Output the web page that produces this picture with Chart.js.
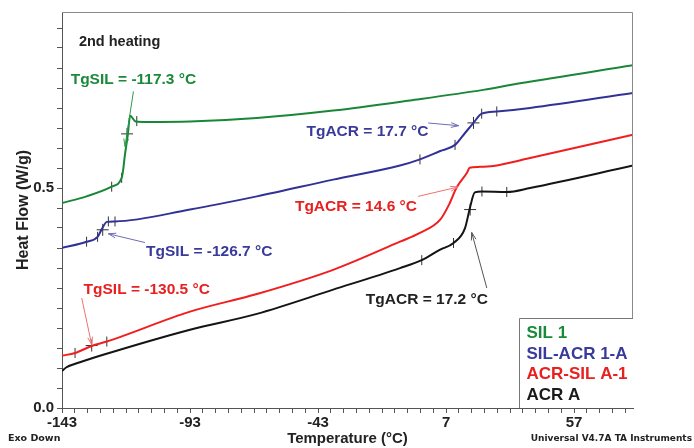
<!DOCTYPE html>
<html>
<head>
<meta charset="utf-8">
<script src="https://cdn.jsdelivr.net/npm/chart.js@4.4.1/dist/chart.umd.min.js"></script>
<style>
  html, body { margin: 0; padding: 0; background: #fff; }
</style>
</head>
<body>
<canvas id="dsc" width="694" height="448"></canvas>
<script>
// temperatures (°C) and heat flow (W/g)
const sil1Temp = [-143, -133.4, -123.6, -119.7, -119.1, -118.5, -117.3, -116.4, -114.2, -109.9, -93, -66.9, -37.1, -7.1, 21.5, 35.9, 80];
const sil1Flow = [0.466, 0.481, 0.503, 0.523, 0.542, 0.572, 0.621, 0.664, 0.651, 0.650, 0.651, 0.659, 0.676, 0.699, 0.723, 0.738, 0.779];

const silAcrTemp = [-143, -133.4, -129.1, -127.5, -125.5, -122.3, -93, -66.9, -37.1, -11, -3.2, 4.7, 10.5, 14.4, 17.7, 20.9, 26.8, 39.8, 80];
const silAcrFlow = [0.364, 0.378, 0.389, 0.406, 0.423, 0.424, 0.451, 0.481, 0.519, 0.551, 0.565, 0.584, 0.598, 0.625, 0.648, 0.669, 0.674, 0.682, 0.716];

const acrSilTemp = [-143, -137.9, -131.4, -125.5, -93, -66.9, -37.1, -11, -3.2, 4.7, 8.3, 11.1, 15.1, 16.2, 19.6, 25.5, 39.8, 80];
const acrSilFlow = [0.119, 0.125, 0.141, 0.151, 0.219, 0.259, 0.314, 0.378, 0.398, 0.428, 0.464, 0.501, 0.534, 0.546, 0.548, 0.550, 0.568, 0.621];

const acrTemp = [-143, -141.4, -136, -126.9, -93, -66.9, -37.1, -11, -2.5, 4.7, 9.9, 14.4, 16.4, 18.2, 21, 30.7, 39.8, 80];
const acrFlow = [0.084, 0.092, 0.104, 0.121, 0.178, 0.214, 0.269, 0.318, 0.336, 0.360, 0.375, 0.409, 0.457, 0.490, 0.492, 0.491, 0.500, 0.551];

// onset / endset marks and Tg crosses from the analysis
const markTemp = [-123.6, -119.7, -113.8, -133.4, -129.1, -124.9, -122.3, -3.2, 10.5, 20.9, 26.8, -137.9, -125.5, -2.5, 9.9, 21, 30.7];
const markFlow = [0.503, 0.523, 0.652, 0.378, 0.389, 0.424, 0.424, 0.565, 0.598, 0.669, 0.674, 0.125, 0.151, 0.336, 0.375, 0.492, 0.491];
const tgTemp = [-117.6, -127.1, 17.7, -131.4, 16.4];
const tgFlow = [0.623, 0.405, 0.648, 0.142, 0.451];

const xLabels = [-143, -93, -43, 7, 57];
const yLabels = [0.0, 0.5];

const xMin = -143, xMax = 80, yMin = 0, yMax = 0.9;
const xMinor = [];
for (let v = xMin; v <= xMax; v += 5) xMinor.push(v);
const yMinor = [];
for (let k = 0; k * 0.5 / 11 <= yMax + 1e-9; k++) yMinor.push(k * 0.5 / 11);

const FONT = "'Liberation Sans', Arial, sans-serif";

function pts(xs, ys) {
  return xs.map((t, i) => ({ x: t, y: ys[i] }));
}

const notes = [
  { text: "2nd heating", t: -136.4, hf: 0.8325, color: "#222", align: "left", size: 14.5 },
  { text: "TgSIL = -117.3 °C", t: -115.1, hf: 0.746, color: "#1a8a3a",
    arrow: [-115.1, 0.7195, -118.4, 0.5945], arrowColor: "#2e9a4e" },
  { text: "TgACR = 17.7 °C", t: -23.7, hf: 0.6286, color: "#3a3a9a",
    arrow: [0.0, 0.6477, 11.9, 0.6416], arrowColor: "#6d6db5" },
  { text: "TgACR = 14.6 °C", t: -28.2, hf: 0.4582, color: "#e82020",
    arrow: [-3.9, 0.481, 11.7, 0.5023], arrowColor: "#f07070" },
  { text: "TgSIL = -126.7 °C", t: -85.5, hf: 0.356, color: "#3a3a9a",
    arrow: [-110.6, 0.376, -124.9, 0.396], arrowColor: "#6d6db5" },
  { text: "TgSIL = -130.5 °C", t: -109.9, hf: 0.269, color: "#e82020",
    arrow: [-135.3, 0.25, -131.4, 0.1439], arrowColor: "#f07070" },
  { text: "TgACR = 17.2 °C", t: -0.5, hf: 0.246, color: "#222",
    arrow: [22.9, 0.2727, 17.0, 0.399], arrowColor: "#555" },
];

const legendItems = [
  { text: "SIL 1", color: "#1a8a3a" },
  { text: "SIL-ACR 1-A", color: "#3a3a9a" },
  { text: "ACR-SIL A-1", color: "#e82020" },
  { text: "ACR A", color: "#1a1a1a" },
];

function arrow(ctx, x1, y1, x2, y2, color) {
  const a = Math.atan2(y2 - y1, x2 - x1);
  const h = 8;
  ctx.strokeStyle = color;
  ctx.lineWidth = 1;
  ctx.beginPath();
  ctx.moveTo(x1, y1);
  ctx.lineTo(x2, y2);
  ctx.moveTo(x2 - h * Math.cos(a - 0.3), y2 - h * Math.sin(a - 0.3));
  ctx.lineTo(x2, y2);
  ctx.lineTo(x2 - h * Math.cos(a + 0.3), y2 - h * Math.sin(a + 0.3));
  ctx.stroke();
}

const dscNotes = {
  id: "dscNotes",
  afterDraw(chart) {
    const { ctx, chartArea: ca, scales: { x, y } } = chart;
    ctx.save();

    // frame (top / right)
    ctx.strokeStyle = "#8a8a8a";
    ctx.lineWidth = 1;
    ctx.beginPath();
    ctx.moveTo(ca.left, ca.top + 0.5);
    ctx.lineTo(ca.right - 0.5, ca.top + 0.5);
    ctx.lineTo(ca.right - 0.5, ca.bottom);
    ctx.stroke();

    // labels and arrows
    ctx.textBaseline = "middle";
    notes.forEach(n => {
      ctx.font = "bold " + (n.size || 15.5) + "px " + FONT;
      ctx.fillStyle = n.color;
      ctx.textAlign = n.align || "center";
      ctx.fillText(n.text, x.getPixelForValue(n.t), y.getPixelForValue(n.hf));
      if (n.arrow) {
        const [t1, f1, t2, f2] = n.arrow;
        arrow(ctx, x.getPixelForValue(t1), y.getPixelForValue(f1),
              x.getPixelForValue(t2), y.getPixelForValue(f2), n.arrowColor);
      }
    });

    // legend box in the lower right corner
    const lx = Math.round(x.getPixelForValue(35.6)) + 0.5;
    const ly = Math.round(y.getPixelForValue(0.2045)) + 0.5;
    ctx.fillStyle = "#fff";
    ctx.fillRect(lx, ly, ca.right - lx, ca.bottom - ly);
    ctx.strokeStyle = "#777";
    ctx.beginPath();
    ctx.moveTo(lx, ca.bottom);
    ctx.lineTo(lx, ly);
    ctx.lineTo(ca.right, ly);
    ctx.stroke();
    ctx.font = "bold 17px " + FONT;
    ctx.textAlign = "left";
    legendItems.forEach((it, i) => {
      ctx.fillStyle = it.color;
      ctx.fillText(it.text, lx + 7, ly + 15 + i * 20.6);
    });

    // instrument footer
    ctx.fillStyle = "#222";
    ctx.font = "bold 9.5px 'DejaVu Sans', sans-serif";
    ctx.textAlign = "left";
    ctx.fillText("Exo Down", 8, 439);
    ctx.textAlign = "right";
    ctx.font = "bold 9px 'DejaVu Sans', sans-serif";
    ctx.fillText("Universal V4.7A TA Instruments", 692, 439);
    ctx.restore();
  }
};

const line = (label, xs, ys, color) => ({
  label, data: pts(xs, ys), borderColor: color, backgroundColor: color,
  borderWidth: 2, pointRadius: 0, cubicInterpolationMode: "monotone", fill: false,
});

new Chart(document.getElementById("dsc"), {
  type: "line",
  data: {
    datasets: [
      line("SIL 1", sil1Temp, sil1Flow, "rgb(25,135,55)"),
      line("SIL-ACR 1-A", silAcrTemp, silAcrFlow, "rgb(50,50,150)"),
      line("ACR-SIL A-1", acrSilTemp, acrSilFlow, "rgb(240,30,30)"),
      line("ACR A", acrTemp, acrFlow, "rgb(20,20,20)"),
      {
        label: "marks", data: pts(markTemp, markFlow), showLine: false,
        pointStyle: "line", rotation: 90, pointRadius: 5, borderColor: "#333", borderWidth: 1,
      },
      {
        label: "Tg", data: pts(tgTemp, tgFlow), showLine: false,
        pointStyle: "cross", pointRadius: 6, borderColor: "#333", borderWidth: 1,
      },
    ],
  },
  options: {
    responsive: false,
    animation: false,
    layout: { padding: { top: 12, right: 61, left: 0, bottom: 0 } },
    plugins: { legend: { display: false }, tooltip: { enabled: false } },
    scales: {
      x: {
        type: "linear", min: xMin, max: xMax,
        afterBuildTicks: s => { s.ticks = xMinor.map(v => ({ value: v })); },
        afterFit: s => { s.height = 40; },
        ticks: {
          autoSkip: false, maxRotation: 0, padding: 1, color: "#222",
          font: { family: FONT, size: 15, weight: "bold" },
          callback: v => (xLabels.includes(Math.round(v)) ? String(Math.round(v)) : ""),
        },
        grid: { drawOnChartArea: false, tickLength: 5, color: "#555" },
        border: { color: "#555" },
        title: {
          display: true, text: "Temperature (°C)", color: "#222",
          font: { family: FONT, size: 15, weight: "bold" }, padding: { top: 0, bottom: 0 },
        },
      },
      y: {
        type: "linear", min: yMin, max: yMax,
        afterBuildTicks: s => { s.ticks = yMinor.map(v => ({ value: v })); },
        afterFit: s => { s.width = 62; },
        ticks: {
          autoSkip: false, padding: 3, color: "#222",
          font: { family: FONT, size: 15, weight: "bold" },
          callback: v => {
            const hit = yLabels.find(l => Math.abs(l - v) < 1e-6);
            return hit === undefined ? "" : hit.toFixed(1);
          },
        },
        grid: { drawOnChartArea: false, tickLength: 5, color: "#555" },
        border: { color: "#555" },
        title: {
          display: true, text: "Heat Flow (W/g)", color: "#222",
          font: { family: FONT, size: 16, weight: "bold" }, padding: { top: 14, bottom: 0 },
        },
      },
    },
  },
  plugins: [dscNotes],
});
</script>
</body>
</html>
